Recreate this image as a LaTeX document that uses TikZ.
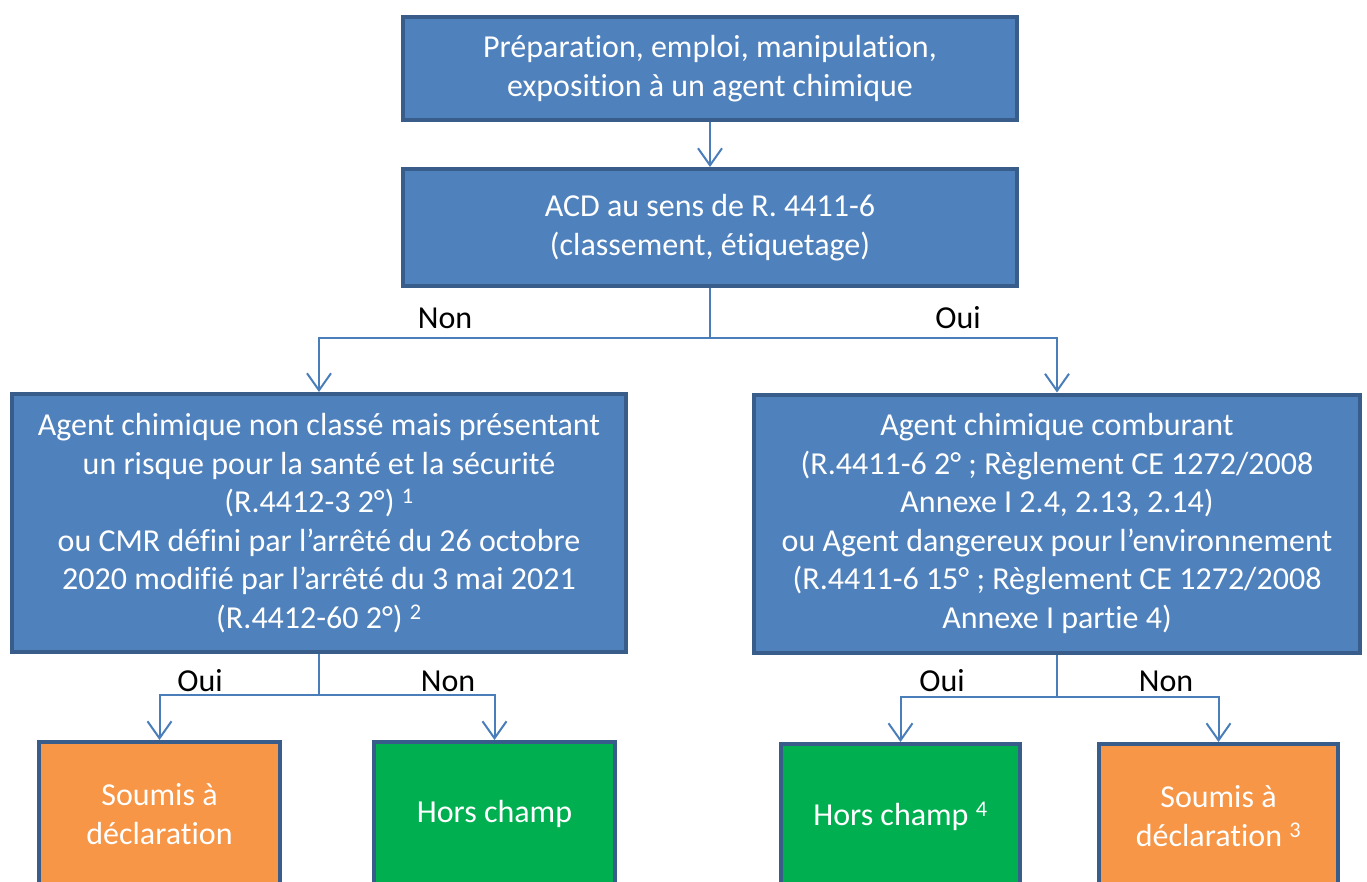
\documentclass[tikz,border=0pt]{standalone}
\usepackage{fontspec}
\setmainfont[Ligatures={NoCommon}]{Carlito}
\usetikzlibrary{arrows.meta}
\definecolor{boxblue}{HTML}{4F81BD}
\definecolor{boxborder}{HTML}{385D8A}
\definecolor{lineblue}{HTML}{4A7EBB}
\definecolor{boxorange}{HTML}{F79646}
\definecolor{boxgreen}{HTML}{00B050}
\tikzset{
  base/.style={draw=boxborder, line width=4pt, text=white, align=center, inner sep=0pt,
    font=\fontsize{32}{38.6}\selectfont},
  bluebox/.style={base, fill=boxblue},
  orangebox/.style={base, fill=boxorange},
  greenbox/.style={base, fill=boxgreen},
  conn/.style={draw=lineblue, line width=2pt},
  arr/.style={conn, -{Straight Barb[length=17pt,width=24pt]}},
  lab/.style={font=\fontsize{32}{38.6}\selectfont, text=black, inner sep=0pt}
}
\begin{document}
\begin{tikzpicture}[x=1pt,y=-1pt]
\clip (0,0) rectangle (1367,881);
\fill[white] (0,0) rectangle (1367,881);

\node[bluebox, minimum width=614pt, minimum height=103pt] (b1) at (710,68.5)
  {\raisebox{-2pt}{\parbox{600pt}{\centering Préparation, emploi, manipulation,\\exposition à un agent chimique}}};
\node[bluebox, minimum width=614pt, minimum height=117pt] (b2) at (710,227.5)
  {ACD au sens de R. 4411-6\\(classement, étiquetage)};
\node[bluebox, minimum width=614pt, minimum height=258pt] (b3) at (319,523)
  {Agent chimique non classé mais présentant\\un risque pour la santé et la sécurité\\(R.4412-3 2°) \textsuperscript{1}\\ou CMR défini par l’arrêté du 26 octobre\\2020 modifié par l’arrêté du 3 mai 2021\\(R.4412-60 2°) \textsuperscript{2}};
\node[bluebox, minimum width=606pt, minimum height=258pt] (b4) at (1057,523.5)
  {Agent chimique comburant\\(R.4411-6 2° ; Règlement CE 1272/2008\\Annexe I 2.4, 2.13, 2.14)\\ou Agent dangereux pour l’environnement\\(R.4411-6 15° ; Règlement CE 1272/2008\\Annexe I partie 4)};

\node[orangebox, minimum width=241pt, minimum height=144pt] (b5) at (159.5,814)
  {Soumis à\\déclaration};
\node[greenbox, minimum width=241pt, minimum height=144pt] (b6) at (494.5,814)
  {Hors champ};
\node[greenbox, minimum width=239pt, minimum height=144pt] (b7) at (900.5,816)
  {Hors champ \textsuperscript{4}};
\node[orangebox, minimum width=239pt, minimum height=144pt] (b8) at (1218.5,816)
  {Soumis à\\déclaration \textsuperscript{3}};

\draw[arr] (b1.south) -- (b2.north);

\coordinate (j1) at (710,338);
\draw[conn] (b2.south) -- (j1);
\draw[arr] (j1) -| (b3.north);
\draw[arr] (j1) -| (b4.north);

\coordinate (j2) at (319,695);
\draw[conn] (b3.south) -- (j2);
\draw[arr] (j2) -| (b5.north);
\draw[arr] (j2) -| (b6.north);

\coordinate (j3) at (1057,697);
\draw[conn] (b4.south) -- (j3);
\draw[arr] (j3) -| (b7.north);
\draw[arr] (j3) -| (b8.north);

\node[lab] (l1) at (445,318) {Non};
\node[lab] (l2) at (958,318) {Oui};
\node[lab] (l3) at (200,681) {Oui};
\node[lab] (l4) at (448,681) {Non};
\node[lab] (l5) at (942,681) {Oui};
\node[lab] (l6) at (1166,681) {Non};
\end{tikzpicture}
\end{document}
